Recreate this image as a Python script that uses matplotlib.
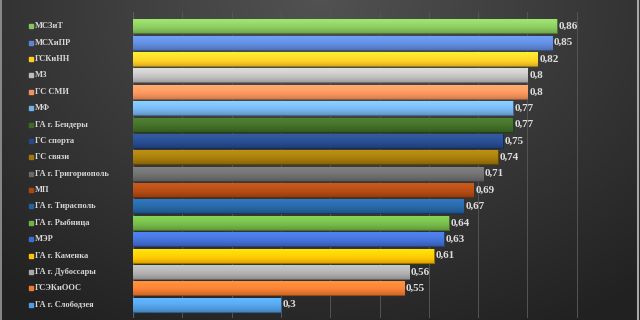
import numpy as np
import matplotlib
matplotlib.use("Agg")
import matplotlib.pyplot as plt
from matplotlib.colors import to_rgb
from matplotlib.lines import Line2D

categories = ["МСЗиТ", "МСХиПР", "ГСКиНН", "МЗ", "ГС СМИ", "МФ", "ГА г. Бендеры",
              "ГС спорта", "ГС связи", "ГА г. Григориополь", "МП", "ГА г. Тирасполь",
              "ГА г. Рыбница", "МЭР", "ГА г. Каменка", "ГА г. Дубоссары", "ГСЭКиООС",
              "ГА г. Слободзея"]
values = [0.86, 0.85, 0.82, 0.8, 0.8, 0.77, 0.77, 0.75, 0.74, 0.71, 0.69, 0.67,
          0.64, 0.63, 0.61, 0.56, 0.55, 0.3]
value_labels = ["0,86", "0,85", "0,82", "0,8", "0,8", "0,77", "0,77", "0,75", "0,74",
                "0,71", "0,69", "0,67", "0,64", "0,63", "0,61", "0,56", "0,55", "0,3"]
colors = ["#86c45c", "#5b86d6", "#ffcc22", "#bdbdbd", "#f4915a", "#72b1e8", "#3e6a24",
          "#24488a", "#a07708", "#6a6a6a", "#ad4710", "#23629f", "#70b446", "#3f6cd0",
          "#ffc300", "#a9a9a9", "#ef7a30", "#4f9ce0"]

W, H = 640, 320
fig = plt.figure(figsize=(W / 100, H / 100), dpi=100)

# background radial gradient
bg = fig.add_axes([0, 0, 1, 1])
yy, xx = np.mgrid[0:1:320j, 0:1:640j]
d = np.sqrt(((xx - 0.5) / 0.75) ** 2 + ((yy - 0.0) / 1.1) ** 2)
val = np.clip(0.32 - 0.18 * d, 0.13, 0.34)
bg.imshow(np.dstack([val, val, val]), extent=[0, 1, 0, 1], aspect="auto", origin="upper")
bg.set_axis_off()
fig.add_artist(Line2D([0.0015, 0.0015], [0, 1], transform=fig.transFigure, color="#9a9a9a", lw=1.2))
fig.add_artist(Line2D([0.9975, 0.9975], [0, 1], transform=fig.transFigure, color="#a8a8a8", lw=1.5))

left = 133 / W
right = 626 / W
top_px, bot_px = 12, 318
ax = fig.add_axes([left, 1 - bot_px / H, right - left, (bot_px - top_px) / H])
ax.set_facecolor("none")

n = len(categories)
ypos = np.arange(n)
bars = ax.barh(ypos, values, height=0.85, color=colors, zorder=3)

for b, c in zip(bars, colors):
    rgb = np.array(to_rgb(c))
    edge = rgb * 0.6
    b.set_edgecolor(edge)
    b.set_linewidth(0.8)
    # vertical gradient overlay
    t = np.linspace(0, 1, 32)[:, None]
    shade = 1.0 + 0.12 * (1 - t) - 0.15 * t ** 3
    grad = np.clip(rgb[None, None, :] * shade[:, :, None] + 0.04 * (1 - t)[:, :, None], 0, 1)
    x0, y0 = b.get_x(), b.get_y()
    w, h = b.get_width(), b.get_height()
    im = ax.imshow(grad, extent=[x0, x0 + w, y0 + h, y0], aspect="auto",
                   origin="upper", zorder=3.5)
    im.set_clip_path(b)

for yv, v, lab in zip(ypos, values, value_labels):
    ax.text(v + 0.004, yv, lab, va="center", ha="left", fontsize=8,
            fontweight="bold", family="Liberation Serif", color="#dedede", zorder=5)

ax.set_xlim(0, 1.0)
ax.set_ylim(17 + 13.3 / 16.38, -14.3 / 16.38)
ax.set_xticks(np.arange(0, 1.01, 0.1))
ax.xaxis.grid(True, color="#555555", lw=0.7, zorder=0)
ax.tick_params(axis="x", length=0, labelbottom=False)
ax.set_yticks([])
for s in ax.spines.values():
    s.set_visible(False)
ax.axvline(0, color="#5a5a5a", lw=1.0, zorder=2)

# category labels with coloured square markers
for yv, cat, c in zip(ypos, categories, colors):
    ax.plot([-(133 - 30.5) / 493], [yv], marker="s", markersize=2.6, color=c,
            clip_on=False, zorder=5)
    ax.text(-(133 - 35) / 493, yv, cat, va="center", ha="left", fontsize=6,
            fontweight="bold", family="Liberation Serif", color="#d8d8d8", clip_on=False)

fig.savefig("out.png", dpi=100)
